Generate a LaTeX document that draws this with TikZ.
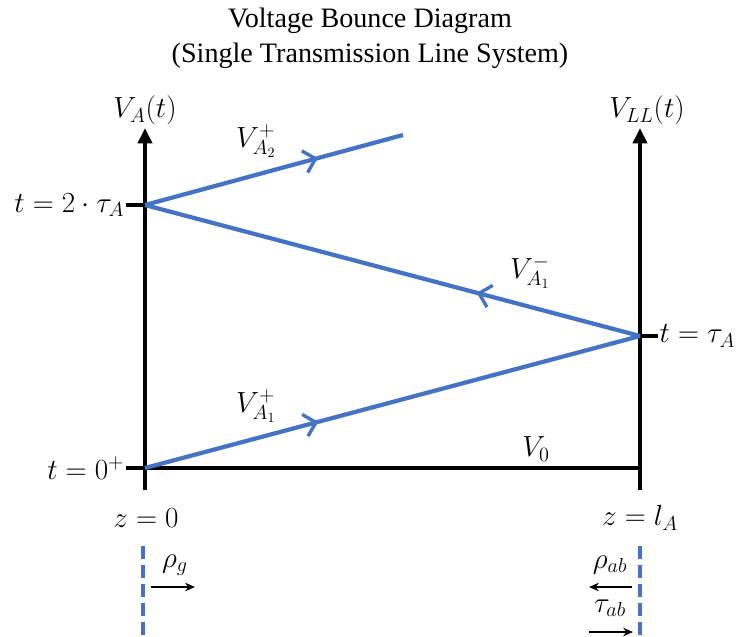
\documentclass[tikz,border=0pt]{standalone}
\usepackage{fontspec}
\setmainfont{Liberation Serif}
\usetikzlibrary{arrows.meta, positioning, decorations.markings}
\definecolor{waveblue}{HTML}{4472C4}
\tikzset{
    axis/.style={line width=2.8pt, draw=black},
    axisarrow/.style={axis, -{Triangle[length=11pt, width=10pt]}},
    wave/.style={line width=3pt, draw=waveblue},
    wavetip/.style={postaction={decorate}, decoration={markings, mark=at position #1 with {\arrow[line width=2.4pt]{Straight Barb[length=8pt, width=16pt]}}}},
    lbl/.style={font=\fontsize{20.5}{24}\selectfont, inner sep=1pt},
    title/.style={font=\fontsize{20}{25}\selectfont, align=center},
    bound/.style={line width=2.3pt, draw=waveblue, dash pattern=on 9pt off 4.5pt},
    smallarrow/.style={-{Stealth[length=7pt, width=6pt]}, line width=0.8pt}
}
\begin{document}
\begin{tikzpicture}[x=0.025cm, y=-0.025cm]
    \useasboundingbox (0,0) rectangle (740,636);
    \node[title] (head) at (370,38) {Voltage Bounce Diagram\\(Single Transmission Line System)};
    % axes and ticks
    \coordinate (Abot) at (145,490);
    \coordinate (Atop) at (145,128);
    \coordinate (Bbot) at (640,490);
    \coordinate (Btop) at (640,128);
    \coordinate (A0) at (145,468);
    \coordinate (B0) at (640,468);
    \coordinate (B1) at (640,336);
    \coordinate (A2) at (145,205);
    \coordinate (C2) at (403,135);
    \coordinate (tick0) at (126,468);
    \coordinate (tick2) at (126,205);
    \coordinate (tick1) at (658,336);
    \draw[axisarrow] (Abot) -- (Atop);
    \draw[axisarrow] (Bbot) -- (Btop);
    \draw[axis] (tick0) -- (B0);
    \draw[axis] (tick2) -- (A2);
    \draw[axis] (B1) -- (tick1);
    \node[lbl, above=1pt of Atop] (vA) {$V_A(t)$};
    \node[lbl, above=1pt of Btop, xshift=5pt] (vLL) {$V_{LL}(t)$};
    \node[lbl, left=0pt of tick0] (t0) {$t=0^{+}$};
    \node[lbl, left=0pt of tick2] (t2) {$t=2\cdot\tau_A$};
    \node[lbl, right=0pt of tick1] (t1) {$t=\tau_A$};
    % bouncing waves
    \draw[wave, wavetip=0.35] (A0) -- (B1);
    \draw[wave, wavetip=0.33] (B1) -- (A2);
    \draw[wave, wavetip=0.67] (A2) -- (C2);
    \node[lbl] (vp1) at (256,406) {$V_{A_1}^{+}$};
    \node[lbl] (vm1) at (530,272) {$V_{A_1}^{-}$};
    \node[lbl] (vp2) at (256,141) {$V_{A_2}^{+}$};
    \node[lbl] (v0) at (536,449) {$V_0$};
    % line ends
    \node[lbl] (z0) at (146,518) {$z=0$};
    \node[lbl] (zl) at (640,518) {$z=l_A$};
    \coordinate (gtop) at (143,546);
    \coordinate (gbot) at (143,636);
    \coordinate (ltop) at (640,546);
    \coordinate (lbot) at (640,636);
    \draw[bound] (gtop) -- (gbot);
    \draw[bound] (ltop) -- (lbot);
    \coordinate (rgs) at (151,587);
    \coordinate (rge) at (195,587);
    \coordinate (rabs) at (632,587);
    \coordinate (rabe) at (589,587);
    \coordinate (tabs) at (589,632);
    \coordinate (tabe) at (633,632);
    \draw[smallarrow] (rgs) -- (rge);
    \draw[smallarrow] (rabs) -- (rabe);
    \draw[smallarrow] (tabs) -- (tabe);
    \node[lbl] (rg) at (175,565) {$\rho_g$};
    \node[lbl] (rab) at (610,565) {$\rho_{ab}$};
    \node[lbl] (tab) at (610,608) {$\tau_{ab}$};
\end{tikzpicture}
\end{document}
